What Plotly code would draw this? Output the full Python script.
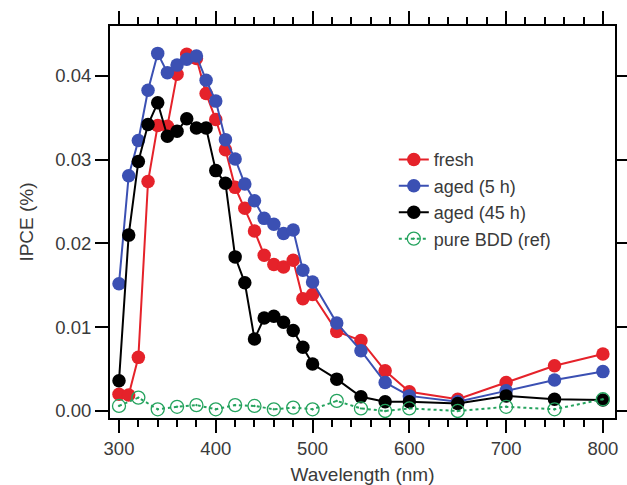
import plotly.graph_objects as go

wavelength = [300, 310, 320, 330, 340, 350, 360, 370, 380, 390, 400, 410, 420, 430, 440,
              450, 460, 470, 480, 490, 500, 525, 550, 575, 600, 650, 700, 750, 800]
fresh = [0.0020, 0.0019, 0.0064, 0.0274, 0.0341, 0.0340, 0.0402, 0.0426, 0.0421, 0.0379,
         0.0348, 0.0312, 0.0267, 0.0242, 0.0215, 0.0186, 0.0175, 0.0172, 0.0180, 0.0134,
         0.0139, 0.0095, 0.0084, 0.0048, 0.0023, 0.0014, 0.0034, 0.0054, 0.0068]
aged_5h = [0.0152, 0.0281, 0.0323, 0.0383, 0.0427, 0.0404, 0.0413, 0.0420, 0.0424, 0.0395,
           0.0370, 0.0324, 0.0301, 0.0271, 0.0251, 0.0230, 0.0223, 0.0212, 0.0216, 0.0168,
           0.0154, 0.0105, 0.0072, 0.0034, 0.0018, 0.0011, 0.0024, 0.0037, 0.0047]
aged_45h = [0.0036, 0.0210, 0.0298, 0.0342, 0.0368, 0.0328, 0.0334, 0.0349, 0.0338, 0.0338,
            0.0287, 0.0272, 0.0184, 0.0153, 0.0086, 0.0111, 0.0113, 0.0106, 0.0096, 0.0076,
            0.0056, 0.0038, 0.0017, 0.0011, 0.0011, 0.0009, 0.0018, 0.0014, 0.0013]
ref_wavelength = [300, 320, 340, 360, 380, 400, 420, 440, 460, 480, 500, 525, 550, 575,
                  600, 650, 700, 750, 800]
pure_bdd = [0.0006, 0.0016, 0.0002, 0.0005, 0.0007, 0.0002, 0.0007, 0.0006, 0.0002, 0.0004,
            0.0002, 0.0012, 0.0003, 0.0000, 0.0003, 0.0000, 0.0005, 0.0002, 0.0014]

x_ticks = [300, 400, 500, 600, 700, 800]
y_ticks = [0.00, 0.01, 0.02, 0.03, 0.04]

RED = "#E5222A"
BLUE = "#3B50B3"
BLACK = "#000000"
GREEN = "#25A35E"

fig = go.Figure()
fig.add_trace(go.Scatter(x=wavelength, y=fresh, name="fresh", mode="lines+markers",
                         line=dict(color=RED, width=2), marker=dict(size=13.5, color=RED)))
fig.add_trace(go.Scatter(x=wavelength, y=aged_5h, name="aged (5 h)", mode="lines+markers",
                         line=dict(color=BLUE, width=2), marker=dict(size=13.5, color=BLUE)))
fig.add_trace(go.Scatter(x=wavelength, y=aged_45h, name="aged (45 h)", mode="lines+markers",
                         line=dict(color=BLACK, width=2), marker=dict(size=13.5, color=BLACK)))
fig.add_trace(go.Scatter(x=ref_wavelength, y=pure_bdd, name="pure BDD (ref)", mode="lines+markers",
                         line=dict(color=GREEN, width=2, dash="dot"),
                         marker=dict(size=13, color=GREEN, symbol="circle-open-dot",
                                     line=dict(width=1.3, color=GREEN))))

font_color = "#3a3a3a"
fig.update_layout(
    width=627, height=485,
    margin=dict(l=110, r=12, t=26, b=67),
    paper_bgcolor="white", plot_bgcolor="white",
    font=dict(family="Liberation Sans, Arial, sans-serif", size=18.5, color=font_color),
    showlegend=True,
    legend=dict(x=0.562, y=0.706, xanchor="left", yanchor="top",
                bgcolor="rgba(0,0,0,0)", font=dict(size=18, color=font_color),
                tracegroupgap=0),
    xaxis=dict(range=[290.7, 812.5], tickvals=x_ticks, ticks="outside", ticklen=13,
               tickwidth=2, tickcolor="black", showline=True, linecolor="black",
               linewidth=2, mirror="allticks", showgrid=False, zeroline=False,
               automargin=False, tickfont=dict(size=18.5),
               title=dict(text="Wavelength (nm)", standoff=16, font=dict(size=19)),
               minor=dict(dtick=20, tick0=300, ticks="outside", ticklen=7, tickwidth=2,
                          tickcolor="black", showgrid=False)),
    yaxis=dict(range=[-0.00084, 0.04597], tickvals=y_ticks, tickformat=".2f",
               ticks="outside", ticklen=13, tickwidth=2, tickcolor="black",
               showline=True, linecolor="black", linewidth=2, mirror="allticks",
               showgrid=False, zeroline=False, automargin=False, tickfont=dict(size=18.5),
               title=dict(text="IPCE (%)", standoff=17, font=dict(size=19))),
)

fig.write_html("out.html", config={"displayModeBar": False},
               post_script="document.body.style.margin='0px';")
